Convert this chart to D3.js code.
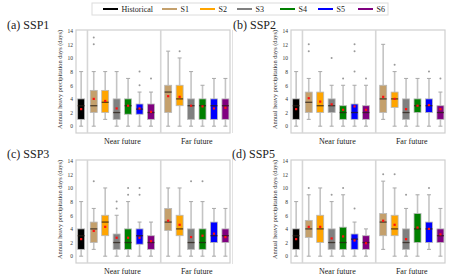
<!DOCTYPE html>
<html>
<head>
<meta charset="utf-8">
<script src="https://cdn.jsdelivr.net/npm/d3@7/dist/d3.min.js"></script>
<style>
  html, body { margin: 0; padding: 0; background: #fff; }
  svg { display: block; }
</style>
</head>
<body>
<svg id="chart" width="465" height="279" font-family="'Liberation Serif', 'DejaVu Serif', serif"></svg>
<script>
// ---------- data ----------
const panelTitles = ["(a) SSP1", "(b) SSP2", "(c) SSP3", "(d) SSP5"];
const seriesNames = ["Historical", "S1", "S2", "S3", "S4", "S5", "S6"];
const seriesColors = ["#000000", "#C4A06C", "#FFA500", "#808080", "#008000", "#0000FF", "#800080"];
const periods = ["Near future", "Far future"];
const yTicks = [0, 2, 4, 6, 8, 10, 12, 14];
const yLabel = "Annual heavy precipitation  days (days)";
// box order in every panel: Historical, Near S1..S6, Far S1..S6
const boxSeries = [0, 1, 2, 3, 4, 5, 6, 1, 2, 3, 4, 5, 6];

const whiskerLow = [
  [0, 0, 1, 0, 0, 0, 0, 0, 0, 0, 0, 0, 0],
  [0, 1, 0, 0, 0, 0, 0, 1, 0, 0, 0, 0, 0],
  [0, 1, 0, 0, 0, 0, 0, 0, 0, 0, 0, 0, 0],
  [0, 0, 0, 0, 0, 0, 0, 1, 0, 0, 0, 1, 0]
];
const q1 = [
  [1, 2, 2, 1, 1.75, 1.75, 1, 2, 3, 1, 1, 1, 1],
  [1, 2, 2, 2, 1, 1, 1, 2, 2.75, 1, 2, 2, 1],
  [1, 2, 3, 1, 1, 1.75, 1, 3.75, 3, 1, 1, 2, 2],
  [1, 2.75, 2, 1, 1, 1, 1, 3, 3, 1, 2, 2, 2]
];
const medians = [
  [3, 3, 3.5, 2, 3, 2.5, 2, 5, 4, 3, 3, 3, 3],
  [3, 3.5, 3, 3, 2, 2, 2, 4, 4, 2, 3, 3, 2],
  [3, 4, 5, 2, 2, 3, 2, 5, 4, 2, 2, 3, 3],
  [3, 4, 4, 2, 2, 2.5, 2, 5, 4, 2, 4, 4, 3]
];
const q3 = [
  [4, 5.25, 5.25, 4, 4, 3.25, 3.25, 6, 6, 4, 4, 4, 4],
  [4, 5, 5, 4, 3, 3.25, 3, 6, 5, 4, 4, 4, 3],
  [4, 5, 6, 3.25, 4, 4, 3, 7, 6, 4, 4, 5, 4],
  [4, 5.25, 6, 4, 4.25, 3.25, 3, 6.25, 6, 4, 6.25, 5, 4]
];
const whiskerHigh = [
  [8, 8, 8, 8, 7, 5, 5, 11, 10, 8, 6, 7, 7],
  [8, 7, 8, 6, 6, 6, 6, 12, 8, 7, 7, 7, 5],
  [8, 7, 10, 6, 8, 5, 5, 10, 10, 8, 8, 7, 7],
  [8, 9, 10, 8, 9, 5, 4, 11, 10, 7, 9, 9, 7]
];
const means = [
  [2.5, 4.0, 3.7, 2.6, 3.0, 2.6, 2.1, 4.4, 4.3, 3.0, 2.9, 2.6, 2.7],
  [2.5, 4.1, 3.6, 3.2, 2.4, 2.9, 2.4, 4.3, 4.0, 2.5, 3.0, 3.1, 2.5],
  [2.5, 3.7, 4.3, 2.7, 2.7, 2.7, 2.2, 5.2, 4.6, 2.8, 3.0, 3.3, 2.8],
  [2.5, 4.3, 4.3, 2.6, 2.9, 2.3, 1.9, 5.2, 4.6, 2.5, 4.2, 4.0, 3.2]
];
const outliers = [
  [[], [12, 13], [], [], [], [6, 8], [7], [], [11], [], [], [], []],
  [[], [11, 12], [], [10], [7], [8, 11, 12], [7], [], [9], [], [], [8], [7]],
  [[], [11], [], [7, 8], [9, 10], [9, 10], [], [], [], [11], [11], [], []],
  [[], [10], [], [9], [10], [7], [], [12], [12], [9], [], [10], []]
];

// ---------- layout ----------
const FONT = "'Liberation Serif', 'DejaVu Serif', serif";
const svg = d3.select("#chart");
const panelOrigins = [[76, 30], [291, 30], [76, 160], [291, 160]];
const plotW = 154, plotH = 103;
const boxPos = [0, 1.1, 2.1, 3.1, 4.1, 5.1, 6.1, 7.6, 8.6, 9.6, 10.6, 11.6, 12.6];
const sepPos = [0.55, 6.95];
const groupCenter = [3.6, 10.1];
const titlePos = [[7, 28.5], [233, 28.5], [7, 158], [232, 158]];

const x = d3.scaleLinear().domain([-0.45, 13.0]).range([0, plotW]);
const y = d3.scaleLinear().domain([-1, 14.1]).range([plotH, 0]);
const boxW = 7, capW = 4;

// faint panel borders of the left images
[[30, 133], [158, 264]].forEach(([a, b]) => {
  svg.append("line").attr("x1", 232.5).attr("x2", 232.5).attr("y1", a).attr("y2", b)
    .attr("stroke", "#e2e2e2").attr("stroke-width", 1);
});

panelTitles.forEach((title, p) => {
  const [ox, oy] = panelOrigins[p];
  const g = svg.append("g").attr("transform", `translate(${ox},${oy})`);

  svg.append("text").attr("x", titlePos[p][0]).attr("y", titlePos[p][1])
    .attr("font-family", FONT).attr("font-size", 12).attr("fill", "#222").text(title);

  // frame
  g.append("rect").attr("x", 0).attr("y", 0).attr("width", plotW).attr("height", plotH)
    .attr("fill", "#fff").attr("stroke", "#cfcfcf").attr("stroke-width", 1.2);

  // separators
  sepPos.forEach(s => {
    g.append("line").attr("x1", x(s)).attr("x2", x(s)).attr("y1", 0).attr("y2", plotH)
      .attr("stroke", "#d6d6d6").attr("stroke-width", 1.6);
  });

  // y axis tick labels
  const axis = d3.axisLeft(y).tickValues(yTicks).tickSize(0).tickPadding(3);
  const ag = g.append("g").call(axis).attr("font-family", FONT);
  ag.select(".domain").remove();
  ag.selectAll("text").attr("font-size", 5.5).attr("fill", "#333").attr("font-family", FONT);

  // y label
  g.append("text").attr("transform", `translate(-14,${plotH / 2 - 2}) rotate(-90)`)
    .attr("text-anchor", "middle").attr("font-size", 6.3).attr("fill", "#333")
    .attr("font-family", FONT).text(yLabel);

  // period labels
  periods.forEach((lab, i) => {
    g.append("text").attr("x", x(groupCenter[i])).attr("y", plotH + 10.5)
      .attr("text-anchor", "middle").attr("font-size", 8).attr("fill", "#222")
      .attr("font-family", FONT).text(lab);
  });

  // boxes
  boxPos.forEach((pos, i) => {
    const cx = x(pos);
    const col = seriesColors[boxSeries[i]];
    const bg = g.append("g");
    bg.append("line").attr("x1", cx).attr("x2", cx)
      .attr("y1", y(whiskerHigh[p][i])).attr("y2", y(q3[p][i]))
      .attr("stroke", "#c4c4c4").attr("stroke-width", 1.6);
    bg.append("line").attr("x1", cx).attr("x2", cx)
      .attr("y1", y(q1[p][i])).attr("y2", y(whiskerLow[p][i]))
      .attr("stroke", "#c4c4c4").attr("stroke-width", 1.6);
    [whiskerHigh[p][i], whiskerLow[p][i]].forEach(v => {
      bg.append("line").attr("x1", cx - capW / 2).attr("x2", cx + capW / 2)
        .attr("y1", y(v)).attr("y2", y(v))
        .attr("stroke", "#a8a8a8").attr("stroke-width", 1);
    });
    bg.append("rect").attr("x", cx - boxW / 2).attr("y", y(q3[p][i]))
      .attr("width", boxW).attr("height", y(q1[p][i]) - y(q3[p][i]))
      .attr("fill", col).attr("stroke", "#b8b8b8").attr("stroke-width", 0.8);
    bg.append("line").attr("x1", cx - boxW / 2).attr("x2", cx + boxW / 2)
      .attr("y1", y(medians[p][i])).attr("y2", y(medians[p][i]))
      .attr("stroke", "rgba(40,30,20,0.75)").attr("stroke-width", 1.3);
    bg.append("rect").attr("x", cx - 1.1).attr("y", y(means[p][i]) - 1.1)
      .attr("width", 2.2).attr("height", 2.2).attr("fill", "#ff1010");
    outliers[p][i].forEach(v => {
      bg.append("circle").attr("cx", cx).attr("cy", y(v)).attr("r", 1)
        .attr("fill", "#9a9a9a");
    });
  });
});

// ---------- legend ----------
const legend = svg.append("g");
legend.append("rect").attr("x", 92).attr("y", 3).attr("width", 296).attr("height", 12)
  .attr("fill", "#fff").attr("stroke", "#dcdcdc").attr("stroke-width", 1);
const legendX = [103, 162, 200, 237, 280, 318, 358];
seriesNames.forEach((n, i) => {
  legend.append("line").attr("x1", legendX[i]).attr("x2", legendX[i] + 15)
    .attr("y1", 9).attr("y2", 9).attr("stroke", seriesColors[i]).attr("stroke-width", 2);
  legend.append("text").attr("x", legendX[i] + 18.5).attr("y", 11.7)
    .attr("font-family", FONT).attr("font-size", 8).attr("fill", "#222").text(n);
});
</script>
</body>
</html>
